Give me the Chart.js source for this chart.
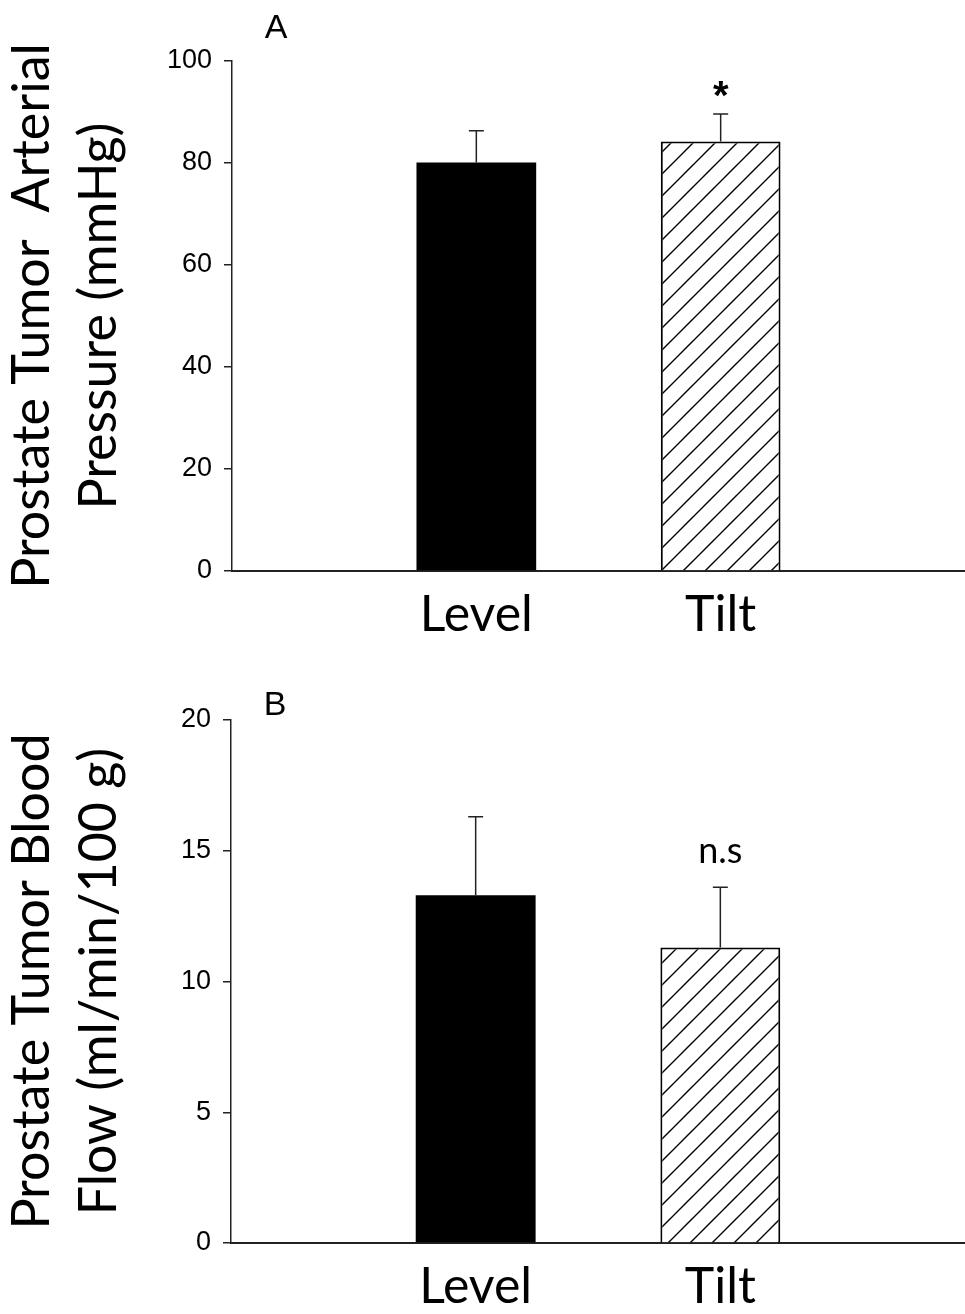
<!DOCTYPE html>
<html>
<head>
<meta charset="utf-8">
<script src="https://cdn.jsdelivr.net/npm/chart.js@4.4.1/dist/chart.umd.min.js"></script>
<style>
 body { margin:0; background:#fff; }
 .panel { width:965px; height:657px; }
</style>
</head>
<body>
<div class="panel"><canvas id="chartA" width="965" height="657"></canvas></div>
<div class="panel"><canvas id="chartB" width="965" height="657"></canvas></div>
<script>
/* donnees */
 var groups = ["Level", "Tilt"];

 var pressureMeans  = [80.1, 84.2];
 var pressureErrors = [6.2, 5.4];
 var pressureMarks  = ["", "*"];
 var pressureTicks  = [0, 20, 40, 60, 80, 100];
 var pressureTitle  = ["Prostate Tumor  Arterial", "Pressure (mmHg)"];

 var flowMeans  = [13.3, 11.3];
 var flowErrors = [3.0, 2.3];
 var flowMarks  = ["", "n.s"];
 var flowTicks  = [0, 5, 10, 15, 20];
 var flowTitle  = ["Prostate Tumor Blood", "Flow (ml/min/100 g)"];

/********************************* Motif hachure "/" **************************************************************************/
 function Make_hatch ()
  { var size = 22;
    var c = document.createElement("canvas");
    c.width = size; c.height = size;
    var g = c.getContext("2d");
    g.fillStyle = "#fff"; g.fillRect(0, 0, size, size);
    g.strokeStyle = "#000"; g.lineWidth = 1.4;
    g.beginPath();
    g.moveTo(-2, size+2); g.lineTo(size+2, -2);
    g.moveTo(-2, 2); g.lineTo(2, -2);
    g.moveTo(size-2, size+2); g.lineTo(size+2, size-2);
    g.stroke();
    return g.createPattern(c, "repeat");
  }

/********************************* Barres d'erreur, marques, titre Y, lettre **************************************************/
 var extrasPlugin =
  { id: "extras",
    afterDatasetsDraw: function (chart, args, opts)
     { var ctx = chart.ctx;
       var y = chart.scales.y;
       var meta = chart.getDatasetMeta(0);
       var values = chart.data.datasets[0].data;
       ctx.save();
       for (var i=0; i<values.length; i++)
        { if (values[i] === null) continue;
          var bar = meta.data[i];
          var top = y.getPixelForValue(values[i] + opts.errors[i-1]);
          ctx.strokeStyle = "#222"; ctx.lineWidth = 1.5;
          ctx.beginPath();
          ctx.moveTo(bar.x, bar.y); ctx.lineTo(bar.x, top);
          ctx.moveTo(bar.x-7.5, top); ctx.lineTo(bar.x+7.5, top);
          ctx.stroke();
          var mark = opts.marks[i-1];
          if (mark)
           { ctx.font = opts.markFont;
             ctx.fillStyle = "#000"; ctx.textAlign = "center"; ctx.textBaseline = "alphabetic";
             var m = ctx.measureText(mark);
             ctx.fillText(mark, bar.x, top - opts.markGap - m.actualBoundingBoxDescent);
           }
        }
       var area = chart.chartArea;
       var cy = (area.top + area.bottom) / 2;
       ctx.font = "52px Lato"; ctx.fillStyle = "#000"; ctx.textAlign = "center"; ctx.textBaseline = "alphabetic";
       for (var l=0; l<opts.title.length; l++)
        { ctx.save();
          ctx.translate(49 + 67*l, cy);
          ctx.rotate(-Math.PI/2);
          ctx.fillText(opts.title[l], 0, 0);
          ctx.restore();
        }
       ctx.font = "34px 'Liberation Sans'"; ctx.textAlign = "center";
       ctx.fillText(opts.letter, area.left + 44, opts.letterY);
       ctx.restore();
     }
  };

/********************************* Creation d'un panneau **********************************************************************/
 function Make_panel ( idCanvas, means, errors, marks, ticks, title, letter, top, bottomH, axisW, letterY, markFont, markGap )
  { var hatch = Make_hatch();
    var labels = [""].concat(groups, [""]);
    var data = [null].concat(means, [null]);
    return new Chart(document.getElementById(idCanvas),
     { type: "bar",
       data: { labels: labels,
               datasets: [ { data: data,
                             backgroundColor: [null, "#000", hatch, null],
                             borderColor: "#000",
                             borderWidth: [0, 0, 2, 0],
                             categoryPercentage: 0.49,
                             barPercentage: 1
                           } ]
             },
       options: { responsive: false, animation: false, devicePixelRatio: 1,
                  layout: { padding: { top: top, left: 0, right: 0, bottom: 0 } },
                  plugins: { legend: { display: false }, tooltip: { enabled: false },
                             extras: { errors: errors, marks: marks, title: title, letter: letter,
                                       letterY: letterY, markFont: markFont, markGap: markGap }
                           },
                  scales: { x: { offset: false,
                                 grid: { display: true, drawOnChartArea: false, drawTicks: false },
                                 border: { display: true, color: "#222", width: 2 },
                                 ticks: { color: "#000", padding: 14, font: { family: "Lato", size: 50 } },
                                 afterFit: function (s) { s.height = bottomH; s.paddingLeft = 0; s.paddingRight = 0; }
                               },
                            y: { min: ticks[0], max: ticks[ticks.length-1], ticks: { stepSize: ticks[1]-ticks[0],
                                   color: "#000", padding: 12, font: { family: "Liberation Sans", size: 27 } },
                                 grid: { display: true, drawOnChartArea: false, drawTicks: true, tickLength: 8,
                                         tickColor: "#222", lineWidth: 1.5 },
                                 border: { display: true, color: "#222", width: 1.5 },
                                 afterFit: function (s) { s.width = axisW; s.paddingTop = 0; s.paddingBottom = 0; }
                               }
                          }
                },
       plugins: [ extrasPlugin ]
     });
  }

 Make_panel ( "chartA", pressureMeans, pressureErrors, pressureMarks, pressureTicks, pressureTitle, "A",
              61, 86, 232, 38, "bold 40px 'Liberation Sans'", 17 );
 Make_panel ( "chartB", flowMeans, flowErrors, flowMarks, flowTicks, flowTitle, "B",
              63, 71, 231, 58, "36px Lato", 24 );
</script>
</body>
</html>
